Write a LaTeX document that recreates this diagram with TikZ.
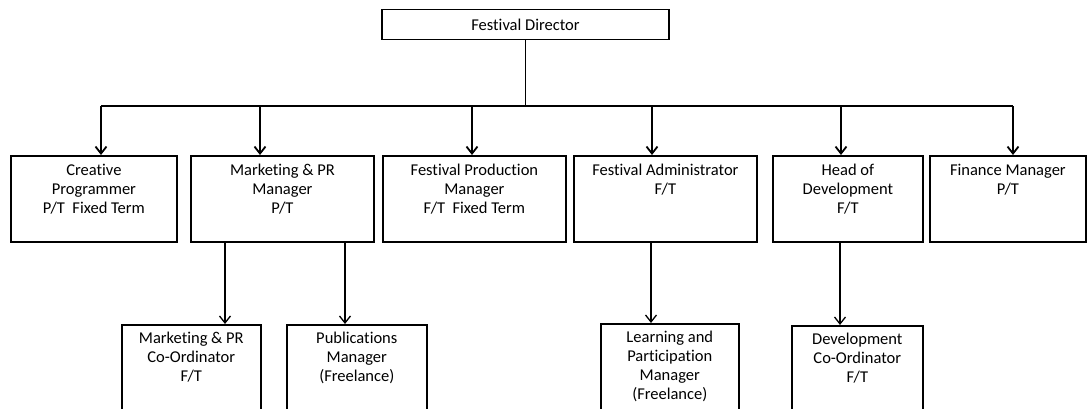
\documentclass[tikz,border=0pt]{standalone}
\usepackage{fontspec}
\setmainfont{Carlito}[Ligatures=NoCommon]
\usetikzlibrary{arrows.meta}

\tikzset{
  post/.style={draw, line width=1.8pt, inner sep=0pt, anchor=north west},
  txt/.style={align=center, anchor=north, inner sep=0pt,
    font=\fontsize{16.5}{19.2}\selectfont,
    execute at begin node=\strut},
  link/.style={line width=1.8pt, -{Straight Barb[length=7pt,width=11pt]}},
  sublink/.style={line width=1.3pt, -{Straight Barb[length=7pt,width=11pt]}}
}

\begin{document}
\begin{tikzpicture}[x=1pt,y=-1pt]
\clip (0,0) rectangle (1088,408);

% director
\node[draw, line width=1.8pt, minimum width=287pt, minimum height=30pt,
  font=\fontsize{16.5}{19.2}\selectfont] (dir) at (525.5,24.5) {Festival Director};

% first row
\node[post, minimum width=166pt, minimum height=86pt] (cp) at (10,155) {};
\node[post, minimum width=183pt, minimum height=86pt] (mpr) at (190,155) {};
\node[post, minimum width=183pt, minimum height=86pt] (fpm) at (382,155) {};
\node[post, minimum width=183pt, minimum height=86pt] (fa) at (573,155) {};
\node[post, minimum width=150pt, minimum height=86pt] (hod) at (772,155) {};
\node[post, minimum width=156pt, minimum height=86pt] (fm) at (929,155) {};

\node[txt] (cp-t) at ([yshift=-8.5pt]cp.north) {Creative\\Programmer\\P/T~ Fixed Term};
\node[txt] (mpr-t) at ([yshift=-8.5pt]mpr.north) {Marketing \& PR\\Manager\\P/T};
\node[txt] (fpm-t) at ([yshift=-8.5pt]fpm.north) {Festival Production\\Manager\\F/T~ Fixed Term};
\node[txt] (fa-t) at ([yshift=-8.5pt]fa.north) {Festival Administrator\\F/T};
\node[txt] (hod-t) at ([yshift=-8.5pt]hod.north) {Head of\\Development\\F/T};
\node[txt] (fm-t) at ([yshift=-8.5pt]fm.north) {Finance Manager\\P/T};

% second row
\node[post, line width=1.6pt, minimum width=139pt, minimum height=110pt] (mc) at (121,324) {};
\node[post, line width=1.6pt, minimum width=140pt, minimum height=110pt] (pub) at (286,324) {};
\node[post, line width=1.6pt, minimum width=138pt, minimum height=110pt] (lpm) at (600,323) {};
\node[post, line width=1.6pt, minimum width=131pt, minimum height=110pt] (dc) at (791,325) {};

\node[txt] (mc-t) at ([yshift=-7.5pt]mc.north) {Marketing \& PR\\Co-Ordinator\\F/T};
\node[txt] (pub-t) at ([yshift=-7.5pt]pub.north) {Publications\\Manager\\(Freelance)};
\node[txt] (lpm-t) at ([yshift=-7.5pt]lpm.north) {Learning and\\Participation\\Manager\\(Freelance)};
\node[txt] (dc-t) at ([yshift=-7.5pt]dc.north) {Development\\Co-Ordinator\\F/T};

% connectors
\coordinate (busL) at (101,106);
\coordinate (busR) at (1013,106);
\draw[line width=1.8pt] (dir.south) -- (dir.south |- busL);
\draw[line width=1.8pt] (busL) -- (busR);
\foreach \x/\n in {101/cp, 260/mpr, 472/fpm, 652/fa, 841/hod, 1013/fm}
  \draw[link] (\x,106) -- (\x,106 |- \n.north);
\foreach \x/\a/\b in {225/mpr/mc, 345/mpr/pub, 651/fa/lpm, 840/hod/dc}
  \draw[sublink] (\x,0 |- \a.south) -- (\x,0 |- \b.north);
\end{tikzpicture}
\end{document}
